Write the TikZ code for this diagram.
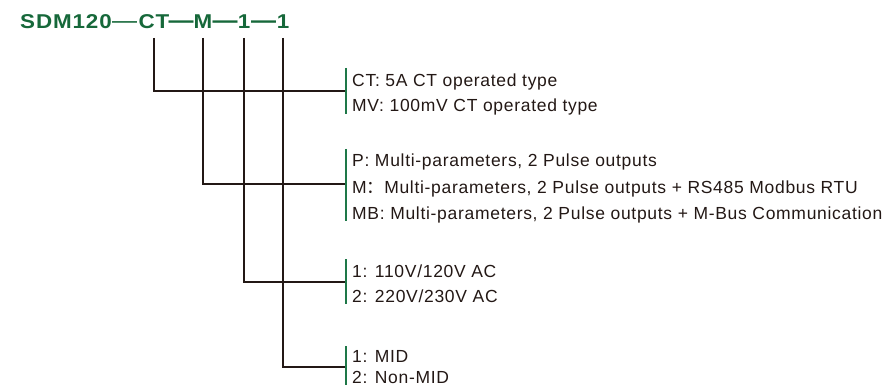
\documentclass[tikz,border=0pt]{standalone}
\usepackage{fontspec}
\setmainfont{Liberation Sans}
\newfontfamily\cjk{Noto Sans CJK SC}
\definecolor{titlegreen}{RGB}{22,104,58}
\definecolor{bargreen}{RGB}{30,120,72}
\definecolor{inkdark}{RGB}{35,24,21}
\newcommand{\longdash}{\scalebox{1.25}[1.2]{—}}
\newcommand{\widen}[1]{\scalebox{1.12}[1]{#1}}
\begin{document}
\begin{tikzpicture}[x=1pt,y=-1pt,
  titletext/.style={inner sep=0pt,anchor=base,text=titlegreen,font=\fontsize{20}{24}\selectfont\bfseries},
  titlespaced/.style={titletext,font=\fontsize{20}{24}\selectfont\bfseries\addfontfeature{LetterSpace=4}},
  desc/.style={inner sep=0pt,anchor=base west,text=inkdark,font=\fontsize{17.5}{21}\selectfont\addfontfeature{LetterSpace=4}},
  wire/.style={draw=inkdark,line width=1.7pt},
  bar/.style={draw=bargreen,line width=1.8pt}]
\useasboundingbox (0,0) rectangle (887,385);
% title
\node[titlespaced,anchor=base west] (sdm) at (20,28.7) {\widen{SDM120}};
\node[titletext,font=\fontsize{20}{24}\selectfont] (d1) at (124.7,28.7) {\longdash};
\node[titlespaced] (ct) at (154,28.7) {\widen{CT}};
\node[titletext] (d2) at (181,28.7) {\longdash};
\node[titletext] (m) at (203,28.7) {\widen{M}};
\node[titletext] (d3) at (225,28.7) {\longdash};
\node[titletext] (v) at (244,28.7) {\widen{1}};
\node[titletext] (d4) at (263.5,28.7) {\longdash};
\node[titletext] (mid) at (283,28.7) {\widen{1}};
% bar joints
\coordinate (j1) at (346,91);
\coordinate (j2) at (346,184);
\coordinate (j3) at (346,282);
\coordinate (j4) at (346,367);
% wires
\draw[wire] ([yshift=-9.3pt]ct.base) |- (j1);
\draw[wire] ([yshift=-9.3pt]m.base) |- (j2);
\draw[wire] ([yshift=-9.3pt]v.base) |- (j3);
\draw[wire] ([yshift=-9.3pt]mid.base) |- (j4);
% green bars
\coordinate (b1t) at (346,68);  \coordinate (b1b) at (346,114);
\coordinate (b2t) at (346,149); \coordinate (b2b) at (346,221);
\coordinate (b3t) at (346,259); \coordinate (b3b) at (346,304);
\coordinate (b4t) at (346,346); \coordinate (b4b) at (346,385);
\draw[bar] (b1t) -- (b1b);
\draw[bar] (b2t) -- (b2b);
\draw[bar] (b3t) -- (b3b);
\draw[bar] (b4t) -- (b4b);
% descriptions
\node[desc] (t1a) at (352,87) {CT: 5A CT operated type};
\node[desc] (t1b) at (352,112) {MV: 100mV CT operated type};
\node[desc] (t2a) at (352,167) {P: Multi-parameters, 2 Pulse outputs};
\node[desc] (t2b) at (352,194) {M{\cjk ：}Multi-parameters, 2 Pulse outputs + RS485 Modbus RTU};
\node[desc] (t2c) at (352,220) {MB: Multi-parameters, 2 Pulse outputs + M-Bus Communication};
\node[desc] (t3a) at (352,277) {1: 110V/120V AC};
\node[desc] (t3b) at (352,302) {2: 220V/230V AC};
\node[desc] (t4a) at (352,362) {1: MID};
\node[desc] (t4b) at (352,383) {2: Non-MID};
\end{tikzpicture}
\end{document}
